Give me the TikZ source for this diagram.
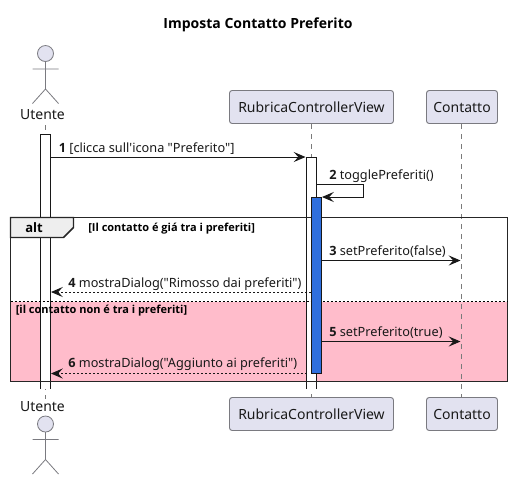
\documentclass[tikz,border=0pt]{standalone}
\usepackage{fontspec}
\setmainfont{Noto Sans}[Ligatures=TeXOff,BoldFont={Open Sans Bold}]
\usetikzlibrary{arrows.meta}
\definecolor{partfill}{HTML}{E2E2F0}
\definecolor{partline}{HTML}{7A7A80}
\definecolor{lifeline}{HTML}{7A7A7A}
\definecolor{msgline}{HTML}{181818}
\definecolor{tabfill}{HTML}{EEEEEE}
\definecolor{altpink}{HTML}{FFBCCB}
\definecolor{activeblue}{HTML}{2F6FDE}
\tikzset{
  x=0.75pt,y=-0.75pt,
  part/.style={draw=partline,fill=partfill,line width=0.7pt,rounded corners=2pt,inner sep=0pt,minimum height=24.75pt,font=\fontsize{10.5}{12}\selectfont,text=black!90},
  lblact/.style={inner sep=0pt,font=\fontsize{10.5}{12}\selectfont,text=black!90},
  life/.style={draw=lifeline,line width=0.5pt,dash pattern=on 3.75pt off 3.75pt},
  actline/.style={draw=partline,line width=0.6pt},
  actv/.style={draw=msgline,line width=0.75pt},
  actb/.style={draw=msgline,fill=activeblue,line width=0.75pt},
  msg/.style={draw=msgline,line width=0.7pt,-{Stealth[length=8.8pt,width=7.5pt,inset=3.4pt]}},
  ret/.style={msg,dash pattern=on 1.5pt off 1.5pt},
  msgtxt/.style={inner sep=0pt,anchor=base west,font=\fontsize{9.55}{11}\selectfont,text=black!90},
  guard/.style={inner sep=0pt,anchor=base west,font=\fontsize{8.25}{10}\bfseries\selectfont},
}
\begin{document}
\begin{tikzpicture}
\useasboundingbox (0,0) rectangle (513,480);
\fill[white] (0,0) rectangle (513,480);
% alt background
\coordinate (fTL) at (10.5,217.5);
\coordinate (fBR) at (507.5,381.5);
\fill[altpink] (10.5,301.5) rectangle (507.5,381.5);
\node[inner sep=0pt,font=\fontsize{10.5}{12}\bfseries\selectfont] (title) at (258,25) {Imposta Contatto Preferito};
% lifelines
\coordinate (uT) at (45.5,125); \coordinate (uB) at (45.5,399);
\coordinate (rT) at (311.5,124); \coordinate (rB) at (311.5,397);
\coordinate (cT) at (461.5,124); \coordinate (cB) at (461.5,397);
\draw[life] (uT) -- (uB);
\draw[life] (rT) -- (rB);
\draw[life] (cT) -- (cB);
% actors
\foreach \yh in {53.5,424}{
  \draw[actline,fill=partfill] (45.5,\yh) circle (8);
  \draw[actline] (45.5,\yh+8) -- (45.5,\yh+35.5) -- (32.5,\yh+50)
                 (45.5,\yh+35.5) -- (58.5,\yh+50)
                 (32.5,\yh+15.5) -- (58.5,\yh+15.5);
}
\node[lblact] (uTop) at (42.5,115) {Utente};
\node[lblact] (uBot) at (42.5,407) {Utente};
% participants
\node[part,minimum width=123pt] (rcvT) at (311.5,107) {RubricaControllerView};
\node[part,minimum width=53.25pt] (conT) at (462,107) {Contatto};
\node[part,minimum width=123pt] (rcvB) at (311.5,414) {RubricaControllerView};
\node[part,minimum width=53.25pt] (conB) at (462,414) {Contatto};
% activations (open at the bottom)
\fill[white] (40.5,134.5) rectangle (50.5,388.5);
\fill[white] (306.5,157) rectangle (316.5,388.5);
\draw[actv] (40.5,388.5) -- (40.5,134.5) -- (50.5,134.5) -- (50.5,388.5);
\draw[actv] (306.5,388.5) -- (306.5,157) -- (316.5,157) -- (316.5,388.5);
% frame
\draw[line width=1.3pt,draw=black!85] (fTL) rectangle (fBR);
\draw[line width=0.6pt,draw=black,dash pattern=on 1.5pt off 1.5pt] (10.5,301.5) -- (507.5,301.5);
\draw[line width=1.1pt,draw=black!85,fill=tabfill] (10.5,217.5) -- (73.5,217.5) -- (73.5,227.5) -- (63.5,237.5) -- (10.5,237.5) -- cycle;
\node[inner sep=0pt,anchor=base,font=\fontsize{9.75}{11}\bfseries\selectfont] (altl) at (34,232) {alt};
\node[guard] (g1) at (88,231.5) {[Il contatto é giá tra i preferiti]};
\node[guard] (g2) at (15.5,313) {[il contatto non é tra i preferiti]};
% blue activation
\draw[actb] (311.5,197) rectangle (321.5,373.5);
% messages
\coordinate (m1a) at (50.5,157); \coordinate (m1b) at (305.5,157);
\draw[msg] (m1a) -- (m1b);
\node[msgtxt] (t1) at (58.5,152) {\textbf{1} [clicca sull'icona "Preferito"]};
\coordinate (m2a) at (316.5,184); \coordinate (m2c) at (363.5,184); \coordinate (m2d) at (363.5,197); \coordinate (m2b) at (322,197);
\draw[msg] (m2a) -- (m2c) -- (m2d) -- (m2b);
\node[msgtxt] (t2) at (329,179) {\textbf{2} togglePreferiti()};
\coordinate (m3a) at (321.5,260.5); \coordinate (m3b) at (460.5,260.5);
\draw[msg] (m3a) -- (m3b);
\node[msgtxt] (t3) at (329,255) {\textbf{3} setPreferito(false)};
\coordinate (m4a) at (311,292); \coordinate (m4b) at (51,292);
\draw[ret] (m4a) -- (m4b);
\node[msgtxt] (t4) at (68,287) {\textbf{4} mostraDialog("Rimosso dai preferiti")};
\coordinate (m5a) at (321.5,341.5); \coordinate (m5b) at (460.5,341.5);
\draw[msg] (m5a) -- (m5b);
\node[msgtxt] (t5) at (329,336) {\textbf{5} setPreferito(true)};
\coordinate (m6a) at (306.5,373.5); \coordinate (m6b) at (51,373.5);
\draw[ret] (m6a) -- (m6b);
\node[msgtxt] (t6) at (68,367) {\textbf{6} mostraDialog("Aggiunto ai preferiti")};
\end{tikzpicture}
\end{document}
